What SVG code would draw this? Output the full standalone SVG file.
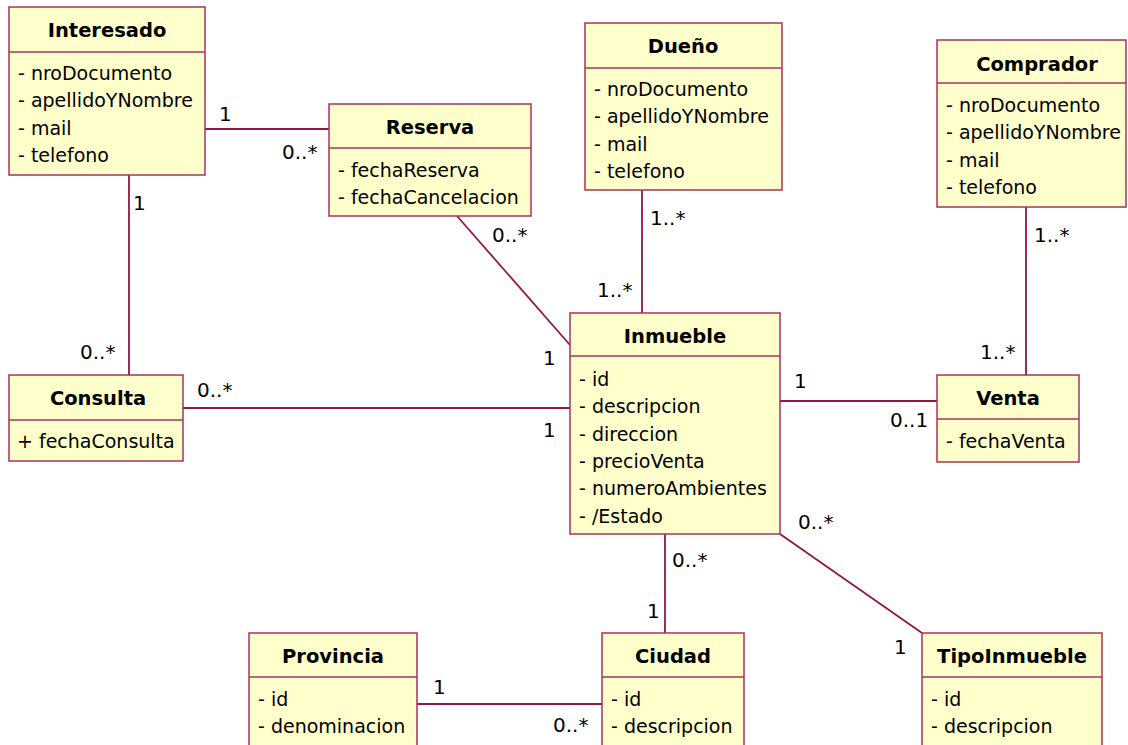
<svg xmlns="http://www.w3.org/2000/svg" width="1128" height="745" viewBox="0 0 1128 745">
<style>
.box{fill:#FFFFCC;stroke:#A8325E;stroke-width:1.5}
.div{stroke:#A8325E;stroke-width:1.5}
.t{font-family:"DejaVu Sans",Verdana,sans-serif;font-size:19.5px;font-weight:bold;fill:#000;text-anchor:middle}
.a{font-family:"DejaVu Sans",Verdana,sans-serif;font-size:19px;fill:#000}
.c{stroke:#8E1846;stroke-width:1.8;fill:none}
.l{font-family:"DejaVu Sans",Verdana,sans-serif;font-size:20px;fill:#000}
</style>
<rect width="1128" height="745" fill="#fff"/>
<g id="connectors">
<line class="c" x1="205" y1="129" x2="329" y2="129"/>
<line class="c" x1="129" y1="175" x2="129" y2="375"/>
<line class="c" x1="457" y1="216" x2="570" y2="345"/>
<line class="c" x1="642" y1="190" x2="642" y2="313"/>
<line class="c" x1="1026" y1="207" x2="1026" y2="375"/>
<line class="c" x1="183" y1="408" x2="570" y2="408"/>
<line class="c" x1="780" y1="401" x2="937" y2="401"/>
<line class="c" x1="665" y1="534" x2="665" y2="633"/>
<line class="c" x1="780" y1="534" x2="922" y2="633"/>
<line class="c" x1="417" y1="704" x2="602" y2="704"/>
<text class="l" x="219" y="121">1</text>
<text class="l" x="282" y="159">0..*</text>
<text class="l" x="133" y="210">1</text>
<text class="l" x="80" y="359">0..*</text>
<text class="l" x="492" y="242">0..*</text>
<text class="l" x="543" y="365">1</text>
<text class="l" x="650" y="225">1..*</text>
<text class="l" x="597" y="297">1..*</text>
<text class="l" x="1034" y="242">1..*</text>
<text class="l" x="980" y="359">1..*</text>
<text class="l" x="197" y="397">0..*</text>
<text class="l" x="543" y="437">1</text>
<text class="l" x="794" y="388">1</text>
<text class="l" x="890" y="427">0..1</text>
<text class="l" x="672" y="567">0..*</text>
<text class="l" x="647" y="618">1</text>
<text class="l" x="798" y="529">0..*</text>
<text class="l" x="894" y="654">1</text>
<text class="l" x="433" y="694">1</text>
<text class="l" x="553" y="732">0..*</text>
</g>
<g id="Interesado">
<rect class="box" x="9" y="7" width="196" height="168"/>
<line class="div" x1="9" y1="52" x2="205" y2="52"/>
<text class="t" x="107" y="37">Interesado</text>
<text class="a" x="18" y="80">- nroDocumento</text>
<text class="a" x="18" y="107">- apellidoYNombre</text>
<text class="a" x="18" y="135">- mail</text>
<text class="a" x="18" y="162">- telefono</text>
</g>
<g id="Reserva">
<rect class="box" x="329" y="104" width="202" height="112"/>
<line class="div" x1="329" y1="148" x2="531" y2="148"/>
<text class="t" x="430" y="134">Reserva</text>
<text class="a" x="338" y="177">- fechaReserva</text>
<text class="a" x="338" y="204">- fechaCancelacion</text>
</g>
<g id="Dueno">
<rect class="box" x="585" y="23" width="197" height="167"/>
<line class="div" x1="585" y1="68" x2="782" y2="68"/>
<text class="t" x="683" y="53">Dueño</text>
<text class="a" x="594" y="96">- nroDocumento</text>
<text class="a" x="594" y="123">- apellidoYNombre</text>
<text class="a" x="594" y="151">- mail</text>
<text class="a" x="594" y="178">- telefono</text>
</g>
<g id="Comprador">
<rect class="box" x="937" y="40" width="189" height="167"/>
<line class="div" x1="937" y1="83" x2="1126" y2="83"/>
<text class="t" x="1037" y="71">Comprador</text>
<text class="a" x="946" y="112">- nroDocumento</text>
<text class="a" x="946" y="139">- apellidoYNombre</text>
<text class="a" x="946" y="167">- mail</text>
<text class="a" x="946" y="194">- telefono</text>
</g>
<g id="Inmueble">
<rect class="box" x="570" y="313" width="210" height="221"/>
<line class="div" x1="570" y1="356" x2="780" y2="356"/>
<text class="t" x="675" y="343">Inmueble</text>
<text class="a" x="579" y="386">- id</text>
<text class="a" x="579" y="413">- descripcion</text>
<text class="a" x="579" y="441">- direccion</text>
<text class="a" x="579" y="468">- precioVenta</text>
<text class="a" x="579" y="495">- numeroAmbientes</text>
<text class="a" x="579" y="523">- /Estado</text>
</g>
<g id="Consulta">
<rect class="box" x="9" y="375" width="174" height="86"/>
<line class="div" x1="9" y1="420" x2="183" y2="420"/>
<text class="t" x="98" y="405">Consulta</text>
<text class="a" x="17" y="448">+ fechaConsulta</text>
</g>
<g id="Venta">
<rect class="box" x="937" y="375" width="142" height="87"/>
<line class="div" x1="937" y1="419" x2="1079" y2="419"/>
<text class="t" x="1008" y="405">Venta</text>
<text class="a" x="946" y="448">- fechaVenta</text>
</g>
<g id="Provincia">
<rect class="box" x="249" y="633" width="168" height="120"/>
<line class="div" x1="249" y1="677" x2="417" y2="677"/>
<text class="t" x="333" y="663">Provincia</text>
<text class="a" x="258" y="706">- id</text>
<text class="a" x="258" y="733">- denominacion</text>
</g>
<g id="Ciudad">
<rect class="box" x="602" y="633" width="142" height="120"/>
<line class="div" x1="602" y1="677" x2="744" y2="677"/>
<text class="t" x="673" y="663">Ciudad</text>
<text class="a" x="611" y="706">- id</text>
<text class="a" x="611" y="733">- descripcion</text>
</g>
<g id="TipoInmueble">
<rect class="box" x="922" y="633" width="180" height="120"/>
<line class="div" x1="922" y1="677" x2="1102" y2="677"/>
<text class="t" x="1012" y="663">TipoInmueble</text>
<text class="a" x="931" y="706">- id</text>
<text class="a" x="931" y="733">- descripcion</text>
</g>
</svg>
